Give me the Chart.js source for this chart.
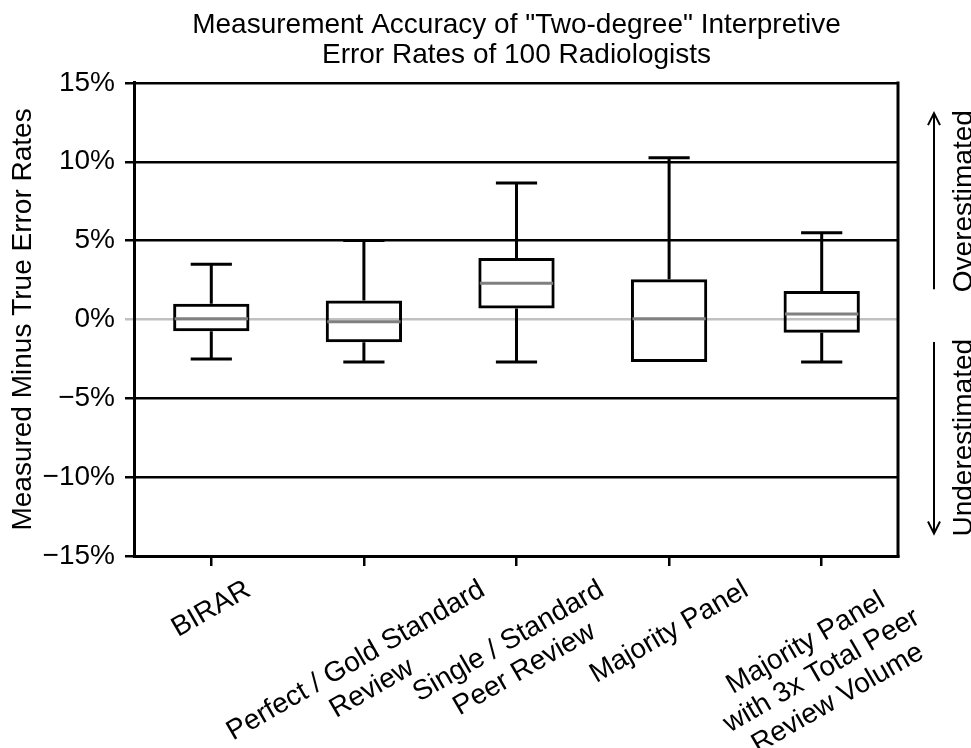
<!DOCTYPE html>
<html>
<head>
<meta charset="utf-8">
<script src="https://cdn.jsdelivr.net/npm/chart.js@4.4.0/dist/chart.umd.min.js"></script>
<style>
  html, body { margin: 0; padding: 0; background: #fff; }
</style>
</head>
<body>
<canvas id="boxChart" width="971" height="748"></canvas>
<script>
// categories (multi-line labels)
const categories = [
    ['BIRAR'],
    ['Perfect / Gold Standard', 'Review'],
    ['Single / Standard', 'Peer Review'],
    ['Majority Panel'],
    ['Majority Panel', 'with 3x Total Peer', 'Review Volume']
];
// box plot values, in percent
const whiskerLow  = [-2.5, -2.7, -2.7, -2.7, -2.7];
const quartile1   = [-0.75, -1.45, 0.7, -2.7, -0.85];
const medians     = [0.05, -0.15, 2.3, 0.05, 0.35];
const quartile3   = [1.0, 1.2, 3.9, 2.55, 1.8];
const whiskerHigh = [3.5, 5.0, 8.65, 10.25, 5.5];
// y axis
const yMin = -15;
const yMax = 15;
const yStep = 5;

const FONT = '"Liberation Sans", Arial, Helvetica, sans-serif';
Chart.defaults.font.family = FONT;
Chart.defaults.font.size = 28;
Chart.defaults.color = '#000';

const boxes = categories.map((c, i) => [quartile1[i], quartile3[i]]);

// whiskers, caps and medians drawn over the boxes
const whiskerPlugin = {
    id: 'whiskers',
    afterDatasetsDraw(chart) {
        const ctx = chart.ctx;
        const y = chart.scales.y;
        const meta = chart.getDatasetMeta(0);
        ctx.save();
        meta.data.forEach((bar, i) => {
            const x = bar.x;
            const half = bar.width / 2;
            const cap = bar.width * 0.27;
            const lo = y.getPixelForValue(whiskerLow[i]);
            const q1 = y.getPixelForValue(quartile1[i]);
            const q3 = y.getPixelForValue(quartile3[i]);
            const hi = y.getPixelForValue(whiskerHigh[i]);
            const md = y.getPixelForValue(medians[i]);
            ctx.strokeStyle = '#000';
            ctx.lineWidth = 3;
            ctx.beginPath();
            ctx.moveTo(x, q3); ctx.lineTo(x, hi);
            ctx.moveTo(x - cap, hi); ctx.lineTo(x + cap, hi);
            if (lo !== q1) {
                ctx.moveTo(x, q1); ctx.lineTo(x, lo);
                ctx.moveTo(x - cap, lo); ctx.lineTo(x + cap, lo);
            }
            ctx.stroke();
            ctx.strokeStyle = '#808080';
            ctx.beginPath();
            ctx.moveTo(x - half + 1.5, md); ctx.lineTo(x + half - 1.5, md);
            ctx.stroke();
        });
        ctx.restore();
    }
};

// right frame line, rotated x labels, and the over/under estimated notes
const decorPlugin = {
    id: 'decor',
    afterDraw(chart) {
        const ctx = chart.ctx;
        const area = chart.chartArea;
        const xs = chart.scales.x;
        const y = chart.scales.y;
        ctx.save();

        ctx.strokeStyle = '#000';
        ctx.lineWidth = 3;
        ctx.lineCap = 'square';
        ctx.beginPath();
        ctx.moveTo(area.right, area.top);
        ctx.lineTo(area.right, area.bottom);
        ctx.stroke();
        ctx.lineCap = 'butt';

        // x labels, rotated 30deg, rotated box centred under the tick
        ctx.font = '28px ' + FONT;
        ctx.fillStyle = '#000';
        ctx.textAlign = 'center';
        ctx.textBaseline = 'middle';
        const lineH = 32;
        const ang = Math.PI / 6;
        const top = area.bottom + 18;
        chart.data.labels.forEach((lines, i) => {
            const tx = xs.getPixelForValue(i);
            const w = Math.max(...lines.map(l => ctx.measureText(l).width));
            const h = lines.length * lineH;
            const bh = w * Math.sin(ang) + h * Math.cos(ang);
            ctx.save();
            ctx.translate(tx, top + bh / 2);
            ctx.rotate(-ang);
            lines.forEach((l, j) => {
                ctx.fillText(l, 0, (j - (lines.length - 1) / 2) * lineH);
            });
            ctx.restore();
        });

        // Overestimated / Underestimated with arrows
        const zero = y.getPixelForValue(0);
        const overC = (area.top + zero) / 2;
        const underC = (zero + area.bottom) / 2;
        const ax = area.right + 36;
        const textX = area.right + 74;
        ctx.textBaseline = 'alphabetic';
        const notes = [
            {text: 'Overestimated', c: overC, dir: -1},
            {text: 'Underestimated', c: underC, dir: 1}
        ];
        notes.forEach(n => {
            const len = ctx.measureText(n.text).width;
            ctx.save();
            ctx.translate(textX, n.c);
            ctx.rotate(-Math.PI / 2);
            ctx.fillText(n.text, 0, 0);
            ctx.restore();

            const half = len / 2 - 3;
            const tip = n.c + n.dir * half;
            const tail = n.c - n.dir * half;
            ctx.lineWidth = 2;
            ctx.beginPath();
            ctx.moveTo(ax, tail);
            ctx.lineTo(ax, tip);
            ctx.moveTo(ax - 6, tip - n.dir * 12);
            ctx.lineTo(ax, tip);
            ctx.lineTo(ax + 6, tip - n.dir * 12);
            ctx.stroke();
        });
        ctx.restore();
    }
};

const boxChart = new Chart(document.getElementById('boxChart'), {
    type: 'bar',
    data: {
        labels: categories,
        datasets: [{
            data: boxes,
            backgroundColor: 'rgba(0,0,0,0)',
            borderColor: '#000',
            borderWidth: 3,
            borderSkipped: false,
            barPercentage: 0.5,
            categoryPercentage: 1.0
        }]
    },
    options: {
        responsive: false,
        animation: false,
        devicePixelRatio: 1,
        layout: {
            padding: {left: 0, right: 73, top: 0, bottom: 182}
        },
        plugins: {
            legend: {display: false},
            tooltip: {enabled: false},
            title: {
                display: true,
                fullSize: false,
                text: ['Measurement Accuracy of "Two-degree" Interpretive', 'Error Rates of 100 Radiologists'],
                font: {size: 28, weight: 'normal', lineHeight: 1.07},
                color: '#000',
                padding: {top: 10, bottom: 13}
            }
        },
        scales: {
            x: {
                offset: true,
                grid: {
                    offset: false,
                    drawOnChartArea: false,
                    drawTicks: true,
                    tickLength: 10,
                    color: '#000',
                    lineWidth: 2.5
                },
                border: {display: true, color: '#000', width: 3},
                ticks: {display: false}
            },
            y: {
                min: yMin,
                max: yMax,
                grid: {
                    color: c => c.tick && c.tick.value === 0 ? '#c0c0c0' : '#000',
                    lineWidth: 2.5,
                    tickLength: 10,
                    drawTicks: true
                },
                border: {display: true, color: '#000', width: 3},
                ticks: {
                    stepSize: yStep,
                    padding: 10,
                    font: {size: 28},
                    color: '#000',
                    callback: v => (v < 0 ? '\u2212' + Math.abs(v) : v) + '%'
                },
                title: {
                    display: true,
                    text: 'Measured Minus True Error Rates',
                    font: {size: 28, lineHeight: 0.7},
                    color: '#000',
                    padding: {top: 13, bottom: 0}
                }
            }
        }
    },
    plugins: [whiskerPlugin, decorPlugin]
});
</script>
</body>
</html>
